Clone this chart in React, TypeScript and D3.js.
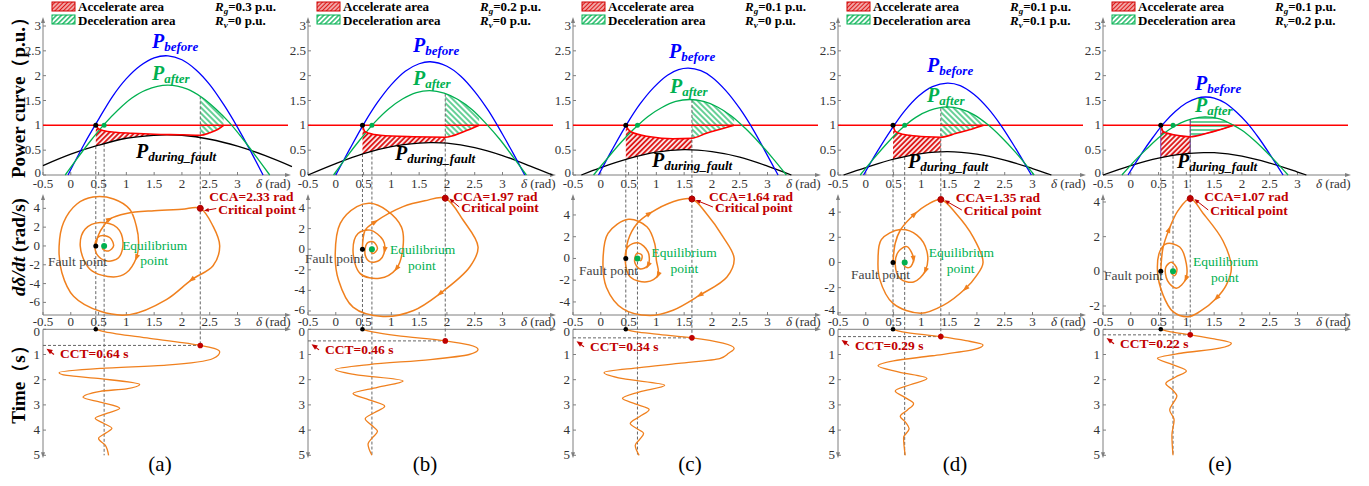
import React from 'react';
import * as d3 from 'd3';

type Pt = [number, number];

// ---------------- data ----------------
const panelLabels = ['(a)', '(b)', '(c)', '(d)', '(e)'];
const rgValues = ['0.3', '0.2', '0.1', '0.1', '0.1'];
const rvValues = ['0', '0', '0', '0.1', '0.2'];
const ccaValues = [2.33, 1.97, 1.64, 1.35, 1.07];
const cctValues = [0.64, 0.46, 0.34, 0.29, 0.22];
const faultDelta = [0.45, 0.48, 0.45, 0.49, 0.54];
const eqDelta = [0.6, 0.65, 0.66, 0.7, 0.76];
const pMech = 1;
const deltaTicks = [-0.5, 0, 0.5, 1, 1.5, 2, 2.5, 3];
const powerTicks = [0, 0.5, 1, 1.5, 2, 2.5, 3];
const timeTicks = [0, 1, 2, 3, 4, 5];
const omegaTicks = [
  [-6, -4, -2, 0, 2, 4],
  [-6, -4, -2, 0, 2, 4],
  [-4, -2, 0, 2, 4],
  [-4, -2, 0, 2, 4],
  [-2, 0, 2, 4],
];
const omegaDomains: Pt[] = [[-7.34, 5.1], [-6.39, 4.97], [-5.2, 5.56], [-4.17, 5.12], [-2.52, 4.23]];

// P_before (delta, P)
const pBefore: Pt[][] = [
  [[-0.05, 0], [0.25, 0.64], [0.5, 1.12], [0.75, 1.58], [1.0, 1.94], [1.25, 2.2], [1.5, 2.36], [1.75, 2.4], [2.0, 2.32], [2.25, 2.12], [2.5, 1.82], [2.75, 1.42], [3.0, 0.96], [3.25, 0.45], [3.46, 0]],
  [[0, 0], [0.25, 0.52], [0.5, 1.02], [0.75, 1.46], [1.0, 1.82], [1.25, 2.09], [1.5, 2.24], [1.7, 2.28], [2.0, 2.19], [2.25, 1.99], [2.5, 1.68], [2.75, 1.29], [3.0, 0.82], [3.2, 0.42], [3.4, 0]],
  [[-0.04, 0], [0.2, 0.5], [0.45, 0.99], [0.7, 1.42], [0.95, 1.76], [1.2, 2.01], [1.4, 2.12], [1.575, 2.15], [1.8, 2.1], [2.0, 1.97], [2.25, 1.7], [2.5, 1.34], [2.75, 0.9], [3.0, 0.39], [3.19, 0]],
  [[-0.04, 0], [0.2, 0.46], [0.45, 0.9], [0.7, 1.29], [0.95, 1.59], [1.2, 1.78], [1.47, 1.85], [1.7, 1.8], [1.95, 1.62], [2.2, 1.34], [2.45, 0.97], [2.7, 0.53], [2.98, 0]],
  [[-0.05, 0], [0.2, 0.44], [0.4, 0.76], [0.6, 1.05], [0.8, 1.28], [1.0, 1.45], [1.2, 1.55], [1.345, 1.57], [1.5, 1.55], [1.7, 1.45], [1.9, 1.27], [2.1, 1.04], [2.3, 0.75], [2.5, 0.42], [2.74, 0]],
];

// P_after
const pAfter: Pt[][] = [
  [[-0.1, 0], [0.1, 0.31], [0.35, 0.68], [0.6, 1.02], [0.85, 1.31], [1.1, 1.55], [1.35, 1.71], [1.74, 1.81], [2.1, 1.73], [2.35, 1.57], [2.6, 1.34], [2.85, 1.06], [3.1, 0.72], [3.35, 0.35], [3.58, 0]],
  [[-0.04, 0], [0.2, 0.37], [0.45, 0.73], [0.7, 1.06], [0.95, 1.33], [1.2, 1.53], [1.45, 1.66], [1.695, 1.7], [1.95, 1.65], [2.2, 1.52], [2.45, 1.32], [2.7, 1.04], [2.95, 0.72], [3.2, 0.35], [3.43, 0]],
  [[-0.13, 0], [0.1, 0.31], [0.35, 0.64], [0.6, 0.93], [0.85, 1.18], [1.1, 1.36], [1.35, 1.48], [1.6, 1.52], [1.85, 1.48], [2.1, 1.37], [2.35, 1.19], [2.6, 0.94], [2.85, 0.65], [3.1, 0.33], [3.34, 0]],
  [[-0.1, 0], [0.15, 0.34], [0.4, 0.66], [0.65, 0.94], [0.9, 1.16], [1.15, 1.3], [1.465, 1.37], [1.7, 1.33], [1.95, 1.21], [2.2, 1.01], [2.45, 0.75], [2.7, 0.45], [3.03, 0]],
  [[-0.16, 0], [0.1, 0.32], [0.3, 0.54], [0.5, 0.75], [0.7, 0.92], [0.9, 1.05], [1.1, 1.13], [1.335, 1.17], [1.6, 1.13], [1.8, 1.03], [2.0, 0.9], [2.2, 0.72], [2.4, 0.51], [2.6, 0.28], [2.83, 0]],
];

// P_during_fault
const pDuring: Pt[][] = [
  [[-0.5, 0.19], [0, 0.42], [0.5, 0.6], [1.0, 0.74], [1.5, 0.8], [1.72, 0.81], [2.0, 0.8], [2.5, 0.72], [3.0, 0.58], [3.5, 0.39], [3.98, 0.17]],
  [[-0.5, 0], [0, 0.23], [0.5, 0.43], [1.0, 0.57], [1.5, 0.64], [1.7, 0.65], [2.0, 0.64], [2.5, 0.55], [3.0, 0.39], [3.5, 0.18], [3.9, 0]],
  [[-0.35, 0], [0, 0.15], [0.5, 0.33], [1.0, 0.46], [1.5, 0.51], [2.0, 0.47], [2.5, 0.36], [3.0, 0.18], [3.43, 0]],
  [[-0.4, 0], [0, 0.15], [0.5, 0.32], [1.0, 0.43], [1.47, 0.47], [2.0, 0.42], [2.5, 0.3], [3.0, 0.13], [3.34, 0]],
  [[-0.5, 0], [0, 0.19], [0.5, 0.34], [1.0, 0.43], [1.33, 0.45], [1.5, 0.45], [2.0, 0.38], [2.5, 0.24], [3.0, 0.06], [3.16, 0]],
];

// electrical power trajectory (red)
const pTrajectory: Pt[][] = [
  [[0.45, 1.0], [0.5, 0.93], [0.6, 0.89], [0.8, 0.86], [1.1, 0.84], [1.5, 0.82], [2.0, 0.81], [2.33, 0.8], [2.5, 0.85], [2.65, 0.92], [2.75, 1.0]],
  [[0.48, 1.0], [0.52, 0.88], [0.6, 0.84], [0.8, 0.8], [1.4, 0.77], [1.97, 0.76], [2.3, 0.87], [2.58, 1.0]],
  [[0.45, 1.0], [0.5, 0.91], [0.56, 0.86], [0.89, 0.77], [1.3, 0.73], [1.64, 0.74], [1.9, 0.84], [2.15, 0.92], [2.4, 1.0]],
  [[0.49, 1.0], [0.53, 0.88], [0.6, 0.84], [0.79, 0.8], [1.09, 0.77], [1.35, 0.76], [1.63, 0.84], [1.9, 0.92], [2.12, 1.0]],
  [[0.54, 1.0], [0.58, 0.88], [0.66, 0.84], [0.82, 0.8], [1.07, 0.77], [1.37, 0.84], [1.6, 0.91], [1.85, 1.0]],
];

// phase trajectory (delta, d delta/dt)
const phasePath: Pt[][] = [
  [[0.45, 0], [0.5, 1.2], [0.6, 2.2], [0.7, 2.85], [1.0, 3.45], [1.5, 3.75], [2.0, 3.9], [2.33, 4.0],
   [2.56, 2.1], [2.68, 0], [2.56, -2.1], [2.17, -3.6], [1.72, -5.7], [1.06, -7.3], [0.53, -6.95], [0.05, -5.35], [-0.16, -2.85], [-0.21, 0], [-0.13, 2.5], [0.11, 4.46], [0.4, 5.2], [0.77, 5.0], [1.06, 3.9], [1.18, 2.1], [1.22, 0.4], [1.18, -1.25], [1.0, -2.85], [0.77, -3.3], [0.35, -2.5], [0.17, 0], [0.26, 1.8], [0.53, 2.5], [0.83, 1.97], [0.94, 0.36], [0.86, -1.25], [0.65, -1.6], [0.47, -0.9], [0.44, 0.36], [0.53, 1.07], [0.7, 0.9], [0.77, 0], [0.68, -0.53], [0.57, -0.3], [0.6, 0]],
  [[0.48, 0], [0.53, 1.85], [0.71, 2.66], [1.21, 4.13], [1.6, 4.7], [1.97, 4.95],
   [2.29, 2.83], [2.56, 0.22], [2.41, -1.73], [1.87, -4.33], [1.4, -5.95], [0.85, -6.54], [0.31, -5.63], [0.05, -3.02], [-0.01, -0.42], [0.08, 2.5], [0.38, 4.13], [0.62, 4.46], [0.91, 3.8], [1.18, 2.17], [1.21, 0.22], [1.09, -1.9], [0.79, -2.83], [0.44, -2.37], [0.31, -0.1], [0.4, 1.53], [0.62, 1.85], [0.85, 0.88], [0.88, -0.1], [0.79, -1.07], [0.62, -1.23], [0.53, -0.59], [0.56, 0.56], [0.67, 0.72], [0.75, 0.07], [0.67, -0.42], [0.62, -0.1], [0.65, 0]],
  [[0.45, 0], [0.49, 1.66], [0.65, 3.2], [0.88, 4.14], [1.3, 5.22], [1.64, 5.47],
   [1.9, 4.14], [2.2, 1.99], [2.4, 0], [2.27, -1.7], [1.78, -3.38], [1.3, -4.76], [0.88, -5.25], [0.4, -4.64], [0.1, -2.64], [0.04, -0.16], [0.13, 2.3], [0.5, 3.6], [0.83, 2.91], [0.97, 1.38], [1.0, -0.16], [1.03, -1.54], [0.83, -2.15], [0.53, -1.7], [0.44, -0.16], [0.49, 1.07], [0.67, 1.44], [0.85, 0.61], [0.85, -0.65], [0.7, -0.95], [0.61, -0.31], [0.65, 0.46], [0.74, 0.3], [0.72, -0.2], [0.66, 0]],
  [[0.49, 0], [0.53, 1.53], [0.62, 2.56], [0.88, 3.85], [1.1, 4.57], [1.35, 5.0],
   [1.63, 3.85], [1.93, 2.04], [2.11, 0], [1.99, -1.06], [1.79, -2.09], [1.4, -3.39], [0.99, -4.03], [0.49, -3.25], [0.25, -1.32], [0.22, 0.13], [0.28, 1.81], [0.62, 2.61], [0.92, 2.17], [1.1, 0.88], [1.07, -0.67], [0.86, -1.55], [0.62, -1.29], [0.53, -0.13], [0.59, 0.88], [0.74, 1.26], [0.86, 0.26], [0.79, -0.39], [0.7, -0.3], [0.67, 0.13], [0.7, 0]],
  [[0.54, 0], [0.58, 1.36], [0.69, 2.43], [0.85, 3.5], [1.07, 4.2],
   [1.3, 3.35], [1.66, 1.75], [1.81, 0.2], [1.72, -0.78], [1.54, -1.55], [1.24, -2.33], [1.03, -2.62], [0.76, -2.33], [0.58, -1.36], [0.48, 0.04], [0.53, 1.2], [0.65, 1.6], [0.88, 1.4], [1.0, 0.43], [0.99, -0.44], [0.82, -0.97], [0.66, -0.54], [0.63, 0.23], [0.73, 0.52], [0.83, 0.14], [0.79, -0.25], [0.73, -0.1], [0.76, 0]],
];
const phaseArrows: Pt[][] = [
  [[0.7, 2.85], [2.17, -3.6], [1.18, -1.25]],
  [[0.71, 2.66], [1.87, -4.33], [1.09, -1.9], [0.88, -0.1]],
  [[0.88, 4.14], [1.78, -3.38], [1.03, -1.54], [0.85, -0.65]],
  [[0.88, 3.85], [1.79, -2.09], [1.07, -0.67], [0.86, 0.26]],
  [[0.69, 2.43], [1.54, -1.55], [0.99, -0.44]],
];

// time response (t, delta)
const timePath: Pt[][] = [
  [[0, 0.45], [0.1, 0.62], [0.36, 1.42], [0.64, 2.33], [0.76, 2.58], [0.9, 2.68], [1.16, 2.56], [1.42, 1.72], [1.55, 0.53], [1.72, -0.21], [1.83, -0.07], [1.96, 0.53], [2.19, 1.24], [2.36, 1.0], [2.46, 0.53], [2.7, 0.22], [2.9, 0.55], [3.13, 0.88], [3.33, 0.66], [3.53, 0.44], [3.73, 0.59], [3.93, 0.74], [4.13, 0.62], [4.33, 0.5], [4.6, 0.62], [5.0, 0.68]],
  [[0, 0.48], [0.1, 0.66], [0.25, 1.1], [0.46, 1.97], [0.62, 2.4], [0.8, 2.56], [1.0, 2.4], [1.2, 1.7], [1.4, 0.6], [1.6, -0.01], [1.8, 0.35], [2.05, 1.21], [2.3, 0.75], [2.55, 0.31], [2.8, 0.6], [3.05, 0.88], [3.3, 0.7], [3.55, 0.53], [3.8, 0.64], [4.05, 0.75], [4.3, 0.66], [4.55, 0.58], [5.0, 0.65]],
  [[0, 0.45], [0.1, 0.64], [0.19, 1.0], [0.34, 1.64], [0.55, 2.2], [0.76, 2.4], [0.95, 2.3], [1.16, 2.14], [1.35, 1.4], [1.52, 0.7], [1.72, 0.06], [1.96, 0.4], [2.22, 1.15], [2.48, 0.7], [2.74, 0.39], [2.96, 0.62], [3.18, 0.87], [3.46, 0.7], [3.74, 0.53], [3.94, 0.65], [4.13, 0.77], [4.37, 0.7], [4.6, 0.62], [5.0, 0.69]],
  [[0, 0.49], [0.1, 0.66], [0.29, 1.35], [0.45, 1.8], [0.62, 2.11], [0.8, 1.95], [1.05, 1.2], [1.25, 0.5], [1.45, 0.22], [1.7, 0.6], [1.95, 1.1], [2.2, 0.8], [2.45, 0.53], [2.7, 0.7], [2.95, 0.86], [3.2, 0.75], [3.45, 0.62], [3.7, 0.72], [3.95, 0.78], [4.3, 0.68], [5.0, 0.71]],
  [[0, 0.54], [0.1, 0.72], [0.22, 1.07], [0.38, 1.5], [0.55, 1.81], [0.75, 1.6], [0.95, 0.9], [1.15, 0.48], [1.4, 0.75], [1.65, 1.0], [1.9, 0.8], [2.15, 0.63], [2.4, 0.75], [2.65, 0.83], [2.9, 0.77], [3.2, 0.7], [3.6, 0.78], [4.2, 0.74], [5.0, 0.76]],
];

// ---------------- layout / style ----------------
const PANEL_X = [43, 308, 573, 838, 1103];
const FONT = "'Liberation Serif','Times New Roman',Times,serif";
const AXIS = '#7f7f7f';
const TXT = '#333';
const BLUE = '#0000ff';
const GREEN = '#00b050';
const RED = '#ff0000';
const DARKRED = '#c00000';
const ORANGE = '#f0801e';
const beforeLab = [[109, 48], [105, 52], [96, 58], [89, 72], [92, 90]];
const afterLab = [[109, 80], [105, 85], [97, 93], [89, 102], [92, 112]];
const duringLab = [[93, 158], [87, 160], [79, 167], [70, 168], [74, 168]];
const ccaOff = [[9, 200.5], [8, 201], [17, 201], [15, 202], [14, 201]];
const critOff = [[18, 213.5], [16, 212], [23, 212], [23, 215], [20, 215]];
const eqOff = [[18, 4, 36, 19], [18, 5, 36, 21], [14, -1, 33, 15], [24, -5, 42, 11], [20, -5, 38, 11]];
const faultOff = [[5, 266], [-3, 263], [6, 275], [13, 279], [1, 280]];

function interp(arr: Pt[], v: number) {
  for (let k = 0; k < arr.length - 1; k++) {
    const [a0, b0] = arr[k];
    const [a1, b1] = arr[k + 1];
    if (v >= a0 && v <= a1) return b0 + ((b1 - b0) * (v - a0)) / (a1 - a0);
  }
  return 0;
}

function Tri({ x, y, ang, fill, len = 6, w = 4 }: any) {
  return (
    <polygon
      points={`${len / 2},0 ${-len / 2},${-w / 2} ${-len / 2},${w / 2}`}
      transform={`translate(${x},${y}) rotate(${ang})`}
      fill={fill}
    />
  );
}

function Panel({ i }: { i: number }) {
  const x0 = PANEL_X[i];
  const xEnd = x0 + 245;
  const x = d3.scaleLinear().domain([-0.5, 3]).range([x0, x0 + 194.5]);
  const yP = d3.scaleLinear().domain([0, 3]).range([175, 26]);
  const yW = d3.scaleLinear().domain(omegaDomains[i]).range([315, 198]);
  const yT = d3.scaleLinear().domain([0, 5]).range([329.3, 455.3]);

  const cca = ccaValues[i];
  const cct = cctValues[i];
  const df = faultDelta[i];
  const de = eqDelta[i];

  const smooth = d3.line<Pt>().x((d) => x(d[0])).y((d) => yP(d[1])).curve(d3.curveCatmullRom);
  const mono = d3.line<Pt>().x((d) => x(d[0])).y((d) => yP(d[1])).curve(d3.curveMonotoneX);
  const aboveBlack = d3.area<Pt>().x((d) => x(d[0])).y0(yP(3.5)).y1((d) => yP(d[1])).curve(d3.curveCatmullRom);
  const underGreen = d3.area<Pt>().x((d) => x(d[0])).y0(yP(0)).y1((d) => yP(d[1])).curve(d3.curveCatmullRom);
  const accArea = d3.area<Pt>().x((d) => x(d[0])).y0(yP(0)).y1((d) => yP(d[1])).curve(d3.curveMonotoneX);
  const decArea = d3.area<Pt>().x((d) => x(d[0])).y0(yP(3.5)).y1((d) => yP(d[1])).curve(d3.curveMonotoneX);

  const traj = pTrajectory[i];
  const part1 = traj.filter((d) => d[0] <= cca);
  const part2 = traj.filter((d) => d[0] >= cca);

  const phase = phasePath[i];
  const phaseLine = d3.line<Pt>().x((d) => x(d[0])).y((d) => yW(d[1])).curve(d3.curveCatmullRom.alpha(0.5));
  const critPt = phase.find((d) => d[0] === cca) as Pt;

  const tLine = d3.line<Pt>().x((d) => x(d[1])).y((d) => yT(d[0])).curve(d3.curveMonotoneY);

  const arrows = phaseArrows[i].map((a) => {
    let best = 0;
    let bd = Infinity;
    phase.forEach((p, k) => {
      const dd = Math.hypot(p[0] - a[0], p[1] - a[1]);
      if (dd < bd) {
        bd = dd;
        best = k;
      }
    });
    const p0 = phase[Math.max(0, best - 1)];
    const p1 = phase[Math.min(phase.length - 1, best + 1)];
    const ang = (Math.atan2(yW(p1[1]) - yW(p0[1]), x(p1[0]) - x(p0[0])) * 180) / Math.PI;
    return { px: x(phase[best][0]), py: yW(phase[best][1]), ang };
  });

  const blackAtF = interp(pDuring[i], df);
  const blackAtE = interp(pDuring[i], de);
  const greenAtC = interp(pAfter[i], cca);

  const clipA = `clipAcc${i}`;
  const clipD = `clipDec${i}`;
  const outline = i === 4 ? '#7030a0' : 'none';

  const ticksStyle = { fontSize: 13, fill: TXT } as any;
  const cx = x(cca);
  const cy = yW(critPt[1]);
  const ax0 = cx + critOff[i][0] - 2;
  const ay0 = critOff[i][1] - 5;
  const ax1 = cx + 6;
  const ay1 = cy + 2;

  return (
    <g>
      <defs>
        <clipPath id={clipA}>
          <path d={aboveBlack(pDuring[i]) || ''} />
        </clipPath>
        <clipPath id={clipD}>
          <path d={underGreen(pAfter[i]) || ''} />
        </clipPath>
      </defs>

      {/* legend */}
      <rect x={x0 + 9} y={2} width={23} height={9} fill="url(#hatchRedL)" stroke="#d00000" strokeWidth={1} />
      <rect x={x0 + 9} y={15} width={23} height={9} fill="url(#hatchGreenL)" stroke={GREEN} strokeWidth={1} />
      <text x={x0 + 35} y={11} fontSize={13} fontWeight="bold" fill="#000">Accelerate area</text>
      <text x={x0 + 35} y={25} fontSize={13} fontWeight="bold" fill="#000">Deceleration area</text>
      <text x={x0 + 172} y={11} fontSize={13} fontWeight="bold" fill="#000">
        <tspan fontStyle="italic">R</tspan>
        <tspan fontStyle="italic" fontSize={9} dy={3}>g</tspan>
        <tspan dy={-3}>={rgValues[i]} p.u.</tspan>
      </text>
      <text x={x0 + 172} y={25} fontSize={13} fontWeight="bold" fill="#000">
        <tspan fontStyle="italic">R</tspan>
        <tspan fontStyle="italic" fontSize={9} dy={3}>v</tspan>
        <tspan dy={-3}>={rvValues[i]} p.u.</tspan>
      </text>

      {/* hatched areas */}
      <path d={accArea(part1) || ''} fill="url(#hatchRed)" clipPath={`url(#${clipA})`} stroke={outline} />
      <path d={decArea(part2) || ''} fill={i === 4 ? 'url(#hatchGreenH)' : 'url(#hatchGreen)'} clipPath={`url(#${clipD})`} stroke={outline} />

      {/* axes: top plot */}
      <line x1={x0} y1={175} x2={xEnd} y2={175} stroke={AXIS} />
      <Tri x={xEnd} y={175} ang={0} fill={AXIS} />
      <line x1={x0} y1={175} x2={x0} y2={20} stroke={AXIS} />
      <Tri x={x0} y={20} ang={-90} fill={AXIS} />
      {powerTicks.map((t) => (
        <g key={'pt' + t}>
          <line x1={x0} x2={x0 + 3} y1={yP(t)} y2={yP(t)} stroke={AXIS} />
          <text x={x0 - 2} y={t === 0 ? yP(t) + 1.5 : yP(t) + 4} textAnchor="end" style={ticksStyle}>{t}</text>
        </g>
      ))}
      {deltaTicks.map((t) => (
        <g key={'dt' + t}>
          <line x1={x(t)} x2={x(t)} y1={175} y2={172} stroke={AXIS} />
          <text x={x(t)} y={187.5} textAnchor="middle" style={ticksStyle}>{t}</text>
          <line x1={x(t)} x2={x(t)} y1={315} y2={312} stroke={AXIS} />
          <text x={x(t)} y={325.5} textAnchor="middle" style={ticksStyle}>{t}</text>
        </g>
      ))}
      <text x={x0 + 213} y={187.5} style={ticksStyle}><tspan fontStyle="italic">δ</tspan> (rad)</text>
      <text x={x0 + 213} y={325.5} style={ticksStyle}><tspan fontStyle="italic">δ</tspan> (rad)</text>

      {/* axes: phase plot */}
      <line x1={x0} y1={315} x2={xEnd} y2={315} stroke={AXIS} />
      <Tri x={xEnd} y={315} ang={0} fill={AXIS} />
      <line x1={x0} y1={315} x2={x0} y2={197} stroke={AXIS} />
      <Tri x={x0} y={197} ang={-90} fill={AXIS} />
      {omegaTicks[i].map((t) => (
        <g key={'wt' + t}>
          <line x1={x0} x2={x0 + 3} y1={yW(t)} y2={yW(t)} stroke={AXIS} />
          <text x={x0 - 3} y={Math.min(yW(t) + 4, 314)} textAnchor="end" style={ticksStyle}>{t}</text>
        </g>
      ))}

      {/* axes: time plot */}
      <line x1={x0} y1={yT(0)} x2={xEnd} y2={yT(0)} stroke={AXIS} />
      <Tri x={xEnd} y={yT(0)} ang={0} fill={AXIS} />
      <line x1={x0} y1={yT(0)} x2={x0} y2={yT(5)} stroke={AXIS} />
      <Tri x={x0} y={yT(5)} ang={90} fill={AXIS} />
      {timeTicks.map((t) => (
        <g key={'tt' + t}>
          <line x1={x0} x2={x0 + 3} y1={yT(t)} y2={yT(t)} stroke={AXIS} />
          <text x={x0 - 3} y={t === 0 ? yT(t) + 7 : yT(t) + 4} textAnchor="end" style={ticksStyle}>{t}</text>
        </g>
      ))}

      {/* dashed guide lines */}
      <g stroke="#666" strokeDasharray="3,2" strokeWidth={1} fill="none">
        <line x1={x(df)} x2={x(df)} y1={yP(blackAtF)} y2={yT(0)} />
        <line x1={x(de)} x2={x(de)} y1={yP(blackAtE)} y2={yT(5)} />
        <line x1={x(cca)} x2={x(cca)} y1={yP(greenAtC)} y2={yT(cct)} />
        <line x1={x0} x2={x(cca)} y1={yT(cct)} y2={yT(cct)} />
      </g>

      {/* power curves */}
      <line x1={x0} x2={xEnd} y1={yP(pMech)} y2={yP(pMech)} stroke={RED} strokeWidth={1.5} />
      <path d={smooth(pDuring[i]) || ''} fill="none" stroke="#000" strokeWidth={1.3} />
      <path d={smooth(pBefore[i]) || ''} fill="none" stroke={BLUE} strokeWidth={1.3} />
      <path d={smooth(pAfter[i]) || ''} fill="none" stroke={GREEN} strokeWidth={1.3} />
      <path d={mono(traj) || ''} fill="none" stroke={RED} strokeWidth={1.6} />
      <circle cx={x(df)} cy={yP(pMech)} r={2.5} fill="#000" />
      <circle cx={x(de)} cy={yP(pMech)} r={2.5} fill={GREEN} />

      {/* curve labels */}
      <text x={x0 + beforeLab[i][0]} y={beforeLab[i][1]} fill={BLUE} fontWeight="bold" fontStyle="italic" fontSize={20}>
        P<tspan fontSize={13} dy={3}>before</tspan>
      </text>
      <text x={x0 + afterLab[i][0]} y={afterLab[i][1]} fill={GREEN} fontWeight="bold" fontStyle="italic" fontSize={20}>
        P<tspan fontSize={13} dy={3}>after</tspan>
      </text>
      <text x={x0 + duringLab[i][0]} y={duringLab[i][1]} fill="#000" fontWeight="bold" fontStyle="italic" fontSize={20}>
        P<tspan fontSize={13} dy={3}>during_fault</tspan>
      </text>

      {/* phase portrait */}
      <path d={phaseLine(phase) || ''} fill="none" stroke={ORANGE} strokeWidth={1.5} />
      {arrows.map((a, k) => (
        <Tri key={'ar' + k} x={a.px} y={a.py} ang={a.ang} fill={ORANGE} len={7} w={5} />
      ))}
      <circle cx={x(df)} cy={yW(0)} r={2.5} fill="#000" />
      <circle cx={x(de)} cy={yW(0)} r={3} fill={GREEN} />
      <circle cx={cx} cy={cy} r={3} fill={DARKRED} stroke="#a00" />
      <text x={cx + ccaOff[i][0]} y={ccaOff[i][1]} fill={DARKRED} fontWeight="bold" fontSize={13.5}>CCA={cca.toFixed(2)} rad</text>
      <text x={cx + critOff[i][0]} y={critOff[i][1]} fill={DARKRED} fontWeight="bold" fontSize={13.5}>Critical point</text>
      <line x1={ax0} y1={ay0} x2={ax1} y2={ay1} stroke={DARKRED} strokeWidth={1} />
      <Tri x={ax1} y={ay1} ang={(Math.atan2(ay1 - ay0, ax1 - ax0) * 180) / Math.PI} fill={DARKRED} len={5} w={4} />
      <text x={x(de) + eqOff[i][0]} y={yW(0) + eqOff[i][1]} fill={GREEN} fontSize={13.5}>Equilibrium</text>
      <text x={x(de) + eqOff[i][2]} y={yW(0) + eqOff[i][3]} fill={GREEN} fontSize={13.5}>point</text>
      <text x={x0 + faultOff[i][0]} y={faultOff[i][1]} fill="#444" fontSize={13.5}>Fault point</text>

      {/* time response */}
      <path d={tLine(timePath[i]) || ''} fill="none" stroke={ORANGE} strokeWidth={1.3} />
      <circle cx={x(df)} cy={yT(0)} r={2.3} fill="#000" />
      <circle cx={x(cca)} cy={yT(cct)} r={2.8} fill={DARKRED} />
      <Tri x={x0 + 6} y={yT(cct) + 5} ang={-145} fill={DARKRED} len={6} w={5} />
      <line x1={x0 + 7} y1={yT(cct) + 6} x2={x0 + 11} y2={yT(cct) + 9} stroke={DARKRED} strokeWidth={1.2} />
      <text x={x0 + 17} y={yT(cct) + 13} fill={DARKRED} fontWeight="bold" fontSize={13.5}>CCT={cct.toFixed(2)} s</text>

      <text x={x0 + 117} y={471} textAnchor="middle" fontSize={21} fill="#000">{panelLabels[i]}</text>
    </g>
  );
}

export default function App() {
  return (
    <svg
      width={1369}
      height={486}
      style={{ position: 'absolute', left: 0, top: 0, background: '#fff' }}
      fontFamily={FONT}
    >
      <defs>
        <pattern id="hatchRed" patternUnits="userSpaceOnUse" width={3.6} height={3.6} patternTransform="rotate(45)">
          <rect width={3.6} height={3.6} fill="#fff" />
          <line x1={1.8} y1={0} x2={1.8} y2={3.6} stroke="#dd1a1a" strokeWidth={2} />
        </pattern>
        <pattern id="hatchGreen" patternUnits="userSpaceOnUse" width={4} height={4} patternTransform="rotate(-45)">
          <rect width={4} height={4} fill="#fff" />
          <line x1={2} y1={0} x2={2} y2={4} stroke={GREEN} strokeWidth={1.2} />
        </pattern>
        <pattern id="hatchGreenH" patternUnits="userSpaceOnUse" width={4} height={4}>
          <rect width={4} height={4} fill="#fff" />
          <line x1={0} y1={2} x2={4} y2={2} stroke={GREEN} strokeWidth={1.2} />
        </pattern>
        <pattern id="hatchRedL" patternUnits="userSpaceOnUse" width={3} height={3} patternTransform="rotate(45)">
          <rect width={3} height={3} fill="#fff" />
          <line x1={1.5} y1={0} x2={1.5} y2={3} stroke="#dd1a1a" strokeWidth={1.8} />
        </pattern>
        <pattern id="hatchGreenL" patternUnits="userSpaceOnUse" width={3.5} height={3.5} patternTransform="rotate(45)">
          <rect width={3.5} height={3.5} fill="#fff" />
          <line x1={1.75} y1={0} x2={1.75} y2={3.5} stroke={GREEN} strokeWidth={1.3} />
        </pattern>
      </defs>
      <rect width={1369} height={486} fill="#fff" />
      <text transform="rotate(-90,25,93)" x={25} y={93} textAnchor="middle" fontSize={19} fontWeight="bold">
        Power curve（p.u.）
      </text>
      <text transform="rotate(-90,25,247)" x={25} y={247} textAnchor="middle" fontSize={19} fontWeight="bold">
        <tspan fontStyle="italic">dδ/dt</tspan> (rad/s)
      </text>
      <text transform="rotate(-90,25,380)" x={25} y={380} textAnchor="middle" fontSize={19} fontWeight="bold">
        Time（s）
      </text>
      {[0, 1, 2, 3, 4].map((i) => (
        <Panel key={i} i={i} />
      ))}
    </svg>
  );
}
